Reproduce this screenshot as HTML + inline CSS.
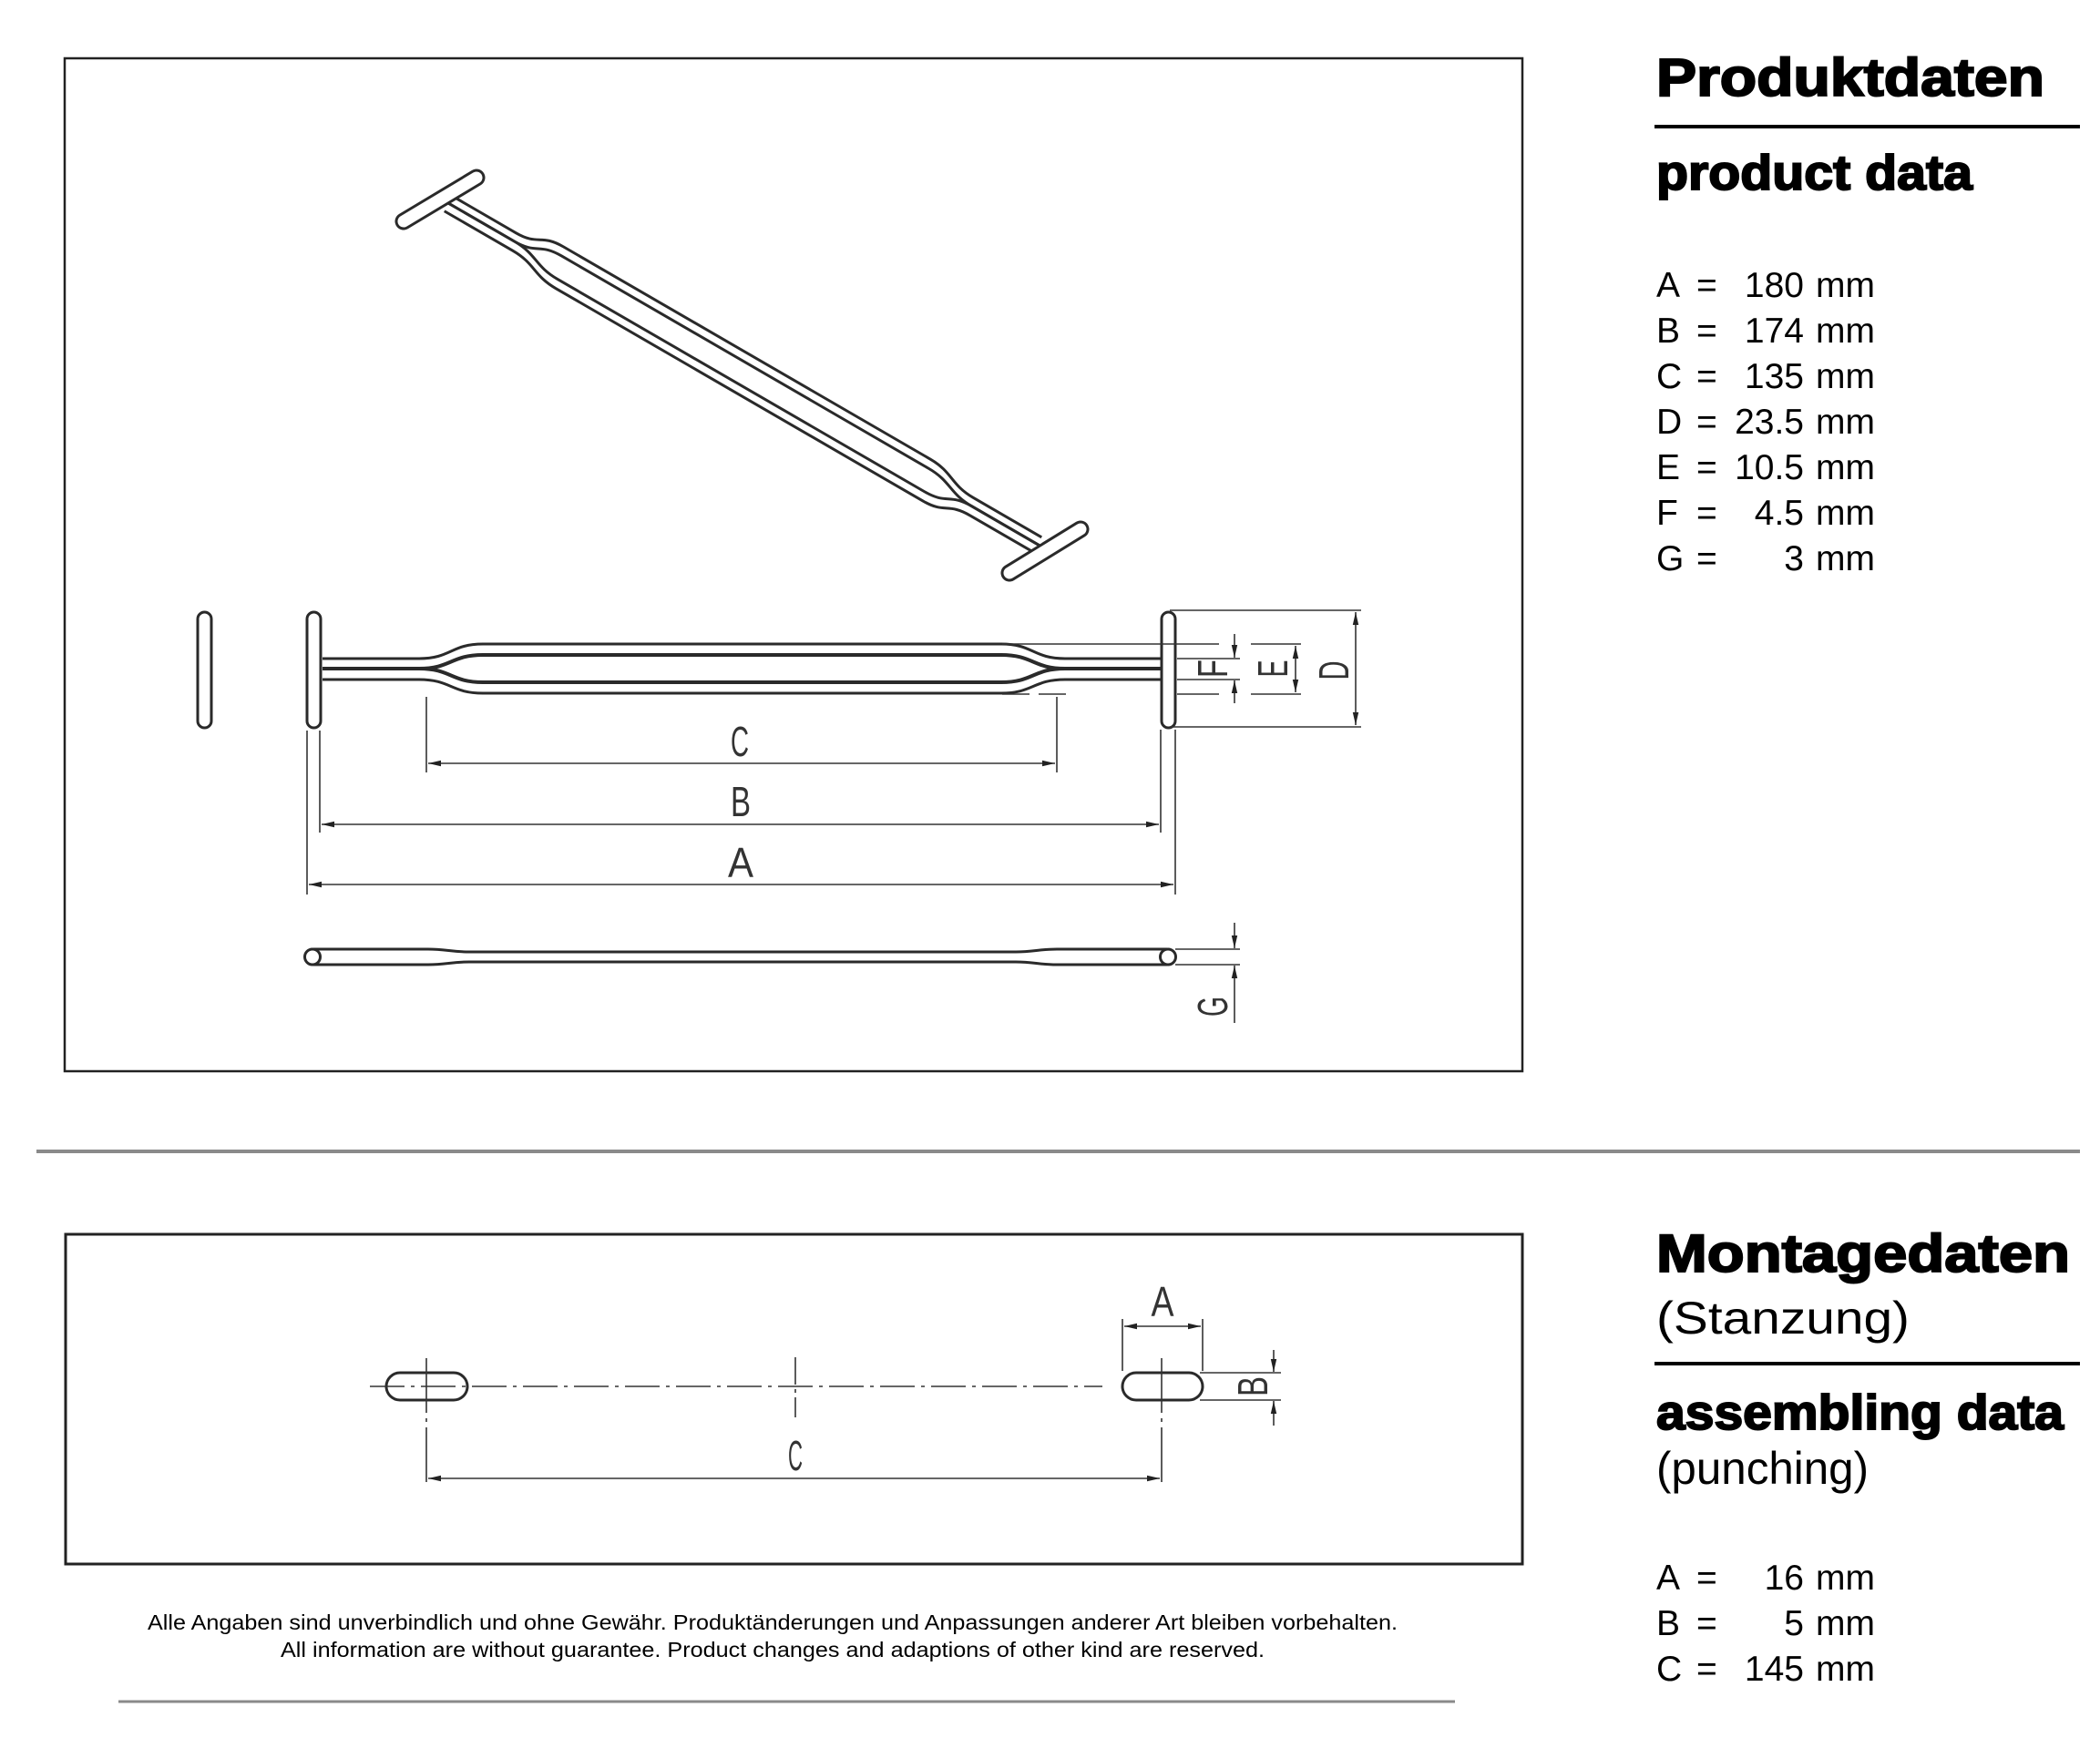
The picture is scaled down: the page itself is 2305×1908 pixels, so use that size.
<!DOCTYPE html>
<html><head><meta charset="utf-8"><style>
html,body{margin:0;padding:0;background:#fff;}
svg{display:block;}
</style></head><body>
<svg width="2305" height="1908" viewBox="0 0 2305 1908" xmlns="http://www.w3.org/2000/svg">
<defs>
<marker id="ar" viewBox="0 0 14 8" refX="14" refY="4" markerWidth="14" markerHeight="8" markerUnits="userSpaceOnUse" orient="auto-start-reverse"><path d="M0,0.8 L14,4 L0,7.2 z" fill="#222"/></marker>
</defs>
<rect width="2305" height="1908" fill="#fff"/>

<!-- top frame -->
<rect x="71" y="64" width="1600" height="1112" fill="none" stroke="#222" stroke-width="2.5"/>

<!-- iso view wires -->
<g transform="matrix(0.708,0.41,-0.15,0.85,349,-547.5)" fill="none" stroke="#2a2a2a" stroke-width="3">
<path vector-effect="non-scaling-stroke" d="M354,723 L460,723 C495,723 495,707 530,707 L1099,707 C1134,707 1134,723 1169,723 L1275,723"/>
<path vector-effect="non-scaling-stroke" d="M354,734 L460,734 C495,734 495,719 530,719 L1099,719 C1134,719 1134,734 1169,734 L1275,734"/>
<path vector-effect="non-scaling-stroke" d="M354,734 L460,734 C495,734 495,749 530,749 L1099,749 C1134,749 1134,734 1169,734 L1275,734"/>
<path vector-effect="non-scaling-stroke" d="M354,746 L460,746 C495,746 495,761 530,761 L1099,761 C1134,761 1134,746 1169,746 L1275,746"/>
</g>
<!-- iso T bars -->
<line x1="443" y1="243" x2="523" y2="195" stroke="#2a2a2a" stroke-width="19" stroke-linecap="round"/>
<line x1="443" y1="243" x2="523" y2="195" stroke="#fff" stroke-width="13" stroke-linecap="round"/>
<line x1="1108" y1="629" x2="1186" y2="581" stroke="#2a2a2a" stroke-width="19" stroke-linecap="round"/>
<line x1="1108" y1="629" x2="1186" y2="581" stroke="#fff" stroke-width="13" stroke-linecap="round"/>

<!-- front view -->
<g fill="none" stroke="#2a2a2a" stroke-width="3">
<path d="M354,723 L460,723 C495,723 495,707 530,707 L1099,707 C1134,707 1134,723 1169,723 L1275,723"/>
<path d="M354,734 L460,734 C495,734 495,719 530,719 L1099,719 C1134,719 1134,734 1169,734 L1275,734" stroke-width="4"/>
<path d="M354,734 L460,734 C495,734 495,749 530,749 L1099,749 C1134,749 1134,734 1169,734 L1275,734" stroke-width="4"/>
<path d="M354,746 L460,746 C495,746 495,761 530,761 L1099,761 C1134,761 1134,746 1169,746 L1275,746"/>
<rect x="217" y="672" width="15" height="127" rx="7.5" fill="#fff"/>
<rect x="337" y="672" width="15" height="127" rx="7.5" fill="#fff"/>
<rect x="1275" y="672" width="15" height="127" rx="7.5" fill="#fff"/>
</g>

<!-- front dims -->
<g stroke="#333" stroke-width="1.6" fill="none">
<line x1="468" y1="765" x2="468" y2="848"/>
<line x1="1160" y1="765" x2="1160" y2="848"/>
<line x1="470" y1="838" x2="1158" y2="838" marker-start="url(#ar)" marker-end="url(#ar)"/>
<line x1="351" y1="802" x2="351" y2="914"/>
<line x1="1274" y1="801" x2="1274" y2="914"/>
<line x1="353" y1="905" x2="1272" y2="905" marker-start="url(#ar)" marker-end="url(#ar)"/>
<line x1="337" y1="802" x2="337" y2="982"/>
<line x1="1290" y1="801" x2="1290" y2="982"/>
<line x1="339" y1="971" x2="1288" y2="971" marker-start="url(#ar)" marker-end="url(#ar)"/>
<!-- right side -->
<line x1="1284" y1="670" x2="1494" y2="670"/>
<line x1="1284" y1="798" x2="1494" y2="798"/>
<line x1="1488" y1="672" x2="1488" y2="796" marker-start="url(#ar)" marker-end="url(#ar)"/>
<line x1="1100" y1="707" x2="1338" y2="707"/>
<line x1="1373" y1="707" x2="1428" y2="707"/>
<line x1="1373" y1="762" x2="1428" y2="762"/>
<line x1="1292" y1="762" x2="1338" y2="762"/>
<line x1="1100" y1="762" x2="1180" y2="762" stroke-dasharray="30 10"/>
<line x1="1422" y1="709" x2="1422" y2="760" marker-start="url(#ar)" marker-end="url(#ar)"/>
<line x1="1292" y1="723" x2="1361" y2="723"/>
<line x1="1292" y1="746" x2="1361" y2="746"/>
<line x1="1355" y1="696" x2="1355" y2="722" marker-end="url(#ar)"/>
<line x1="1355" y1="772" x2="1355" y2="747" marker-end="url(#ar)"/>
</g>
<g font-family="'Liberation Sans',sans-serif" fill="#333" font-size="46">
<text x="812" y="830" text-anchor="middle" textLength="20" lengthAdjust="spacingAndGlyphs">C</text>
<text x="813" y="896" text-anchor="middle" textLength="22" lengthAdjust="spacingAndGlyphs">B</text>
<text x="813" y="963" text-anchor="middle" textLength="28" lengthAdjust="spacingAndGlyphs">A</text>
<text transform="translate(1347,734) rotate(-90)" text-anchor="middle" textLength="20" lengthAdjust="spacingAndGlyphs">F</text>
<text transform="translate(1413,734) rotate(-90)" text-anchor="middle" textLength="19" lengthAdjust="spacingAndGlyphs">E</text>
<text transform="translate(1480,736) rotate(-90)" text-anchor="middle" textLength="21" lengthAdjust="spacingAndGlyphs">D</text>
<text transform="translate(1347,1105) rotate(-90)" text-anchor="middle" textLength="22" lengthAdjust="spacingAndGlyphs">G</text>
</g>

<!-- G view -->
<g fill="none" stroke="#2a2a2a" stroke-width="3">
<path d="M344,1042 L470,1042 C490,1042 495,1045 515,1045 L1115,1045 C1135,1045 1140,1042 1160,1042 L1281,1042"/>
<path d="M344,1059 L470,1059 C490,1059 495,1056 515,1056 L1115,1056 C1135,1056 1140,1059 1160,1059 L1281,1059"/>
<circle cx="343" cy="1050.5" r="8.5" fill="#fff"/>
<circle cx="1282" cy="1050.5" r="8.5" fill="#fff"/>
</g>
<g stroke="#333" stroke-width="1.6" fill="none">
<line x1="1290" y1="1042" x2="1361" y2="1042"/>
<line x1="1290" y1="1059" x2="1361" y2="1059"/>
<line x1="1355" y1="1013" x2="1355" y2="1041" marker-end="url(#ar)"/>
<line x1="1355" y1="1123" x2="1355" y2="1060" marker-end="url(#ar)"/>
</g>

<!-- right texts top -->
<g font-family="'Liberation Sans',sans-serif" fill="#000">
<text x="1818" y="105" font-size="58" font-weight="bold" stroke="#000" stroke-width="2" textLength="426" lengthAdjust="spacingAndGlyphs">Produktdaten</text>
<text x="1818" y="208" font-size="54" font-weight="bold" stroke="#000" stroke-width="2" textLength="347" lengthAdjust="spacingAndGlyphs">product data</text>
<g font-size="39">
<text x="1818" y="326">A</text><text x="1818" y="376">B</text><text x="1818" y="426">C</text><text x="1818" y="476">D</text><text x="1818" y="526">E</text><text x="1818" y="576">F</text><text x="1818" y="626">G</text>
<g><text x="1862" y="326">=</text><text x="1862" y="376">=</text><text x="1862" y="426">=</text><text x="1862" y="476">=</text><text x="1862" y="526">=</text><text x="1862" y="576">=</text><text x="1862" y="626">=</text></g>
<g text-anchor="end"><text x="1980" y="326">180</text><text x="1980" y="376">174</text><text x="1980" y="426">135</text><text x="1980" y="476">23.5</text><text x="1980" y="526">10.5</text><text x="1980" y="576">4.5</text><text x="1980" y="626">3</text></g>
<g><text x="1993" y="326">mm</text><text x="1993" y="376">mm</text><text x="1993" y="426">mm</text><text x="1993" y="476">mm</text><text x="1993" y="526">mm</text><text x="1993" y="576">mm</text><text x="1993" y="626">mm</text></g>
</g>
</g>
<line x1="1816" y1="139" x2="2283" y2="139" stroke="#000" stroke-width="4"/>

<!-- separator -->
<line x1="40" y1="1264" x2="2283" y2="1264" stroke="#8a8a8a" stroke-width="4"/>

<!-- bottom frame -->
<rect x="72" y="1355" width="1599" height="362" fill="none" stroke="#222" stroke-width="3"/>
<g fill="none" stroke="#2a2a2a" stroke-width="3">
<rect x="424" y="1507" width="89" height="30" rx="15"/>
<rect x="1232" y="1507" width="88" height="30" rx="15"/>
</g>
<g stroke="#333" stroke-width="1.6" fill="none">
<line x1="406" y1="1522" x2="1210" y2="1522" stroke-dasharray="38 7 4 7"/>
<line x1="468" y1="1491" x2="468" y2="1632" stroke-dasharray="60 6 4 6"/>
<line x1="1275" y1="1491" x2="1275" y2="1632" stroke-dasharray="60 6 4 6"/>
<line x1="873" y1="1490" x2="873" y2="1556" stroke-dasharray="30 5 4 5"/>
<line x1="470" y1="1623" x2="1273" y2="1623" marker-start="url(#ar)" marker-end="url(#ar)"/>
<line x1="1232" y1="1448" x2="1232" y2="1505"/>
<line x1="1320" y1="1448" x2="1320" y2="1505"/>
<line x1="1234" y1="1456" x2="1318" y2="1456" marker-start="url(#ar)" marker-end="url(#ar)"/>
<line x1="1317" y1="1507" x2="1406" y2="1507"/>
<line x1="1317" y1="1537" x2="1406" y2="1537"/>
<line x1="1398" y1="1482" x2="1398" y2="1506" marker-end="url(#ar)"/>
<line x1="1398" y1="1565" x2="1398" y2="1538" marker-end="url(#ar)"/>
</g>
<g font-family="'Liberation Sans',sans-serif" fill="#333" font-size="46">
<text x="1276" y="1445" text-anchor="middle" textLength="25" lengthAdjust="spacingAndGlyphs">A</text>
<text x="873" y="1614" text-anchor="middle" textLength="16" lengthAdjust="spacingAndGlyphs">C</text>
<text transform="translate(1391,1522) rotate(-90)" text-anchor="middle" textLength="22" lengthAdjust="spacingAndGlyphs">B</text>
</g>

<!-- right texts bottom -->
<g font-family="'Liberation Sans',sans-serif" fill="#000">
<text x="1818" y="1396" font-size="58" font-weight="bold" stroke="#000" stroke-width="2" textLength="454" lengthAdjust="spacingAndGlyphs">Montagedaten</text>
<text x="1818" y="1464" font-size="50" textLength="278" lengthAdjust="spacingAndGlyphs">(Stanzung)</text>
<text x="1818" y="1569" font-size="54" font-weight="bold" stroke="#000" stroke-width="2" textLength="447" lengthAdjust="spacingAndGlyphs">assembling data</text>
<text x="1818" y="1629" font-size="50" textLength="233" lengthAdjust="spacingAndGlyphs">(punching)</text>
<g font-size="39">
<text x="1818" y="1745">A</text><text x="1818" y="1795">B</text><text x="1818" y="1845">C</text>
<text x="1862" y="1745">=</text><text x="1862" y="1795">=</text><text x="1862" y="1845">=</text>
<g text-anchor="end"><text x="1980" y="1745">16</text><text x="1980" y="1795">5</text><text x="1980" y="1845">145</text></g>
<text x="1993" y="1745">mm</text><text x="1993" y="1795">mm</text><text x="1993" y="1845">mm</text>
</g>
</g>
<line x1="1816" y1="1497" x2="2283" y2="1497" stroke="#000" stroke-width="4"/>

<!-- disclaimer -->
<g font-family="'Liberation Sans',sans-serif" fill="#000" font-size="23" text-anchor="middle">
<text x="848" y="1789" textLength="1372" lengthAdjust="spacingAndGlyphs">Alle Angaben sind unverbindlich und ohne Gewähr. Produktänderungen und Anpassungen anderer Art bleiben vorbehalten.</text>
<text x="848" y="1819" textLength="1080" lengthAdjust="spacingAndGlyphs">All information are without guarantee. Product changes and adaptions of other kind are reserved.</text>
</g>
<line x1="130" y1="1868" x2="1597" y2="1868" stroke="#8a8a8a" stroke-width="3"/>
</svg>
</body></html>
